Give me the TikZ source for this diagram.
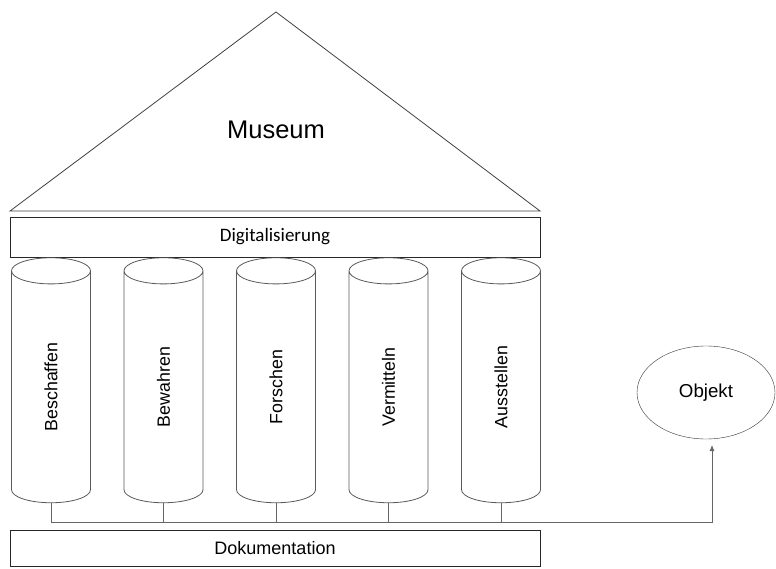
\documentclass[tikz,border=0pt]{standalone}
\usepackage{fontspec}
\setmainfont{Liberation Sans}
\newfontfamily\calibri{Carlito}
\usetikzlibrary{shapes.geometric,arrows.meta}
\newcommand{\up}[1]{\rotatebox{90}{#1}}
\begin{document}
\begin{tikzpicture}[x=1pt, y=1pt,
		box/.style = {draw=black!85, thick, minimum width=530pt, inner sep=0pt},
		pillar/.style = {draw=black!65, thick, cylinder, shape border rotate=90, minimum width=79pt, minimum height=245pt, aspect=2, inner sep=0pt, font=\fontsize{17.8}{20}\selectfont},
		conn/.style = {draw=black!60, thick}]
		\useasboundingbox (0,0) rectangle (776,568);
		% roof
		\draw[black!75, thick] (10,357) -- (276,556) -- (540,357) -- cycle;
		\node (museum) at (276,438) {\fontsize{25.5}{28}\selectfont Museum};
		\node[box, minimum height=40pt] (digi) at (275,331) {\calibri\fontsize{19}{22}\selectfont Digitalisierung};
		% pillars
		\node[pillar] (1) at (51,181) {\up{Beschaffen}};
		\node[pillar] (2) at (163.5,181) {\up{Bewahren}};
		\node[pillar] (3) at (276,181) {\up{Forschen}};
		\node[pillar] (4) at (388.5,181) {\up{Vermitteln}};
		\node[pillar] (5) at (501,181) {\up{Ausstellen}};
		\node[box, minimum height=36pt, font=\fontsize{18}{20}\selectfont] (doku) at (275,20) {Dokumentation};
		\node[draw=black!80, ellipse, minimum width=138pt, minimum height=93pt, inner sep=0pt, font=\fontsize{18.7}{20}\selectfont] (objekt) at (706,175.5) {Objekt};
		\coordinate (j) at (0,46);
		\coordinate (tip) at (712,123);
		\draw[conn, -{Latex[length=6pt,width=5pt]}] (1.bottom) -- (1.bottom |- j) -| (tip);
		\draw[conn] (2.bottom) -- (2.bottom |- j);
		\draw[conn] (3.bottom) -- (3.bottom |- j);
		\draw[conn] (4.bottom) -- (4.bottom |- j);
		\draw[conn] (5.bottom) -- (5.bottom |- j);
	\end{tikzpicture}
\end{document}
